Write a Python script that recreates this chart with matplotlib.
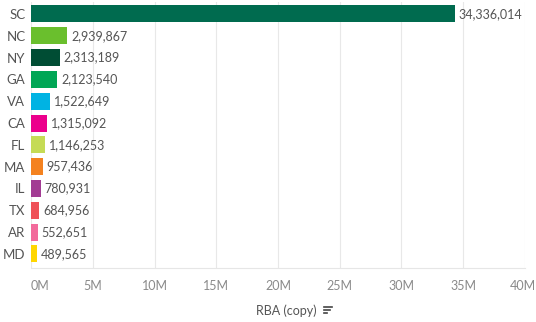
import matplotlib.pyplot as plt
import matplotlib.transforms as mtransforms
from matplotlib.lines import Line2D

# data
states = ["SC", "NC", "NY", "GA", "VA", "CA", "FL", "MA", "IL", "TX", "AR", "MD"]
rba = [34336014, 2939867, 2313189, 2123540, 1522649, 1315092,
       1146253, 957436, 780931, 684956, 552651, 489565]
colors = ["#006b4f", "#6abf2d", "#004d34", "#00a655", "#00b3e3", "#ec008c",
          "#c5db55", "#f4821f", "#a23b93", "#ef5158", "#f26a9b", "#ffd600"]
ticks = [0, 5e6, 10e6, 15e6, 20e6, 25e6, 30e6, 35e6, 40e6]
tick_labels = ["0M", "5M", "10M", "15M", "20M", "25M", "30M", "35M", "40M"]

plt.rcParams['font.family'] = ['Lato', 'DejaVu Sans']

fig = plt.figure(figsize=(5.36, 3.22), dpi=100)
W, H = 536, 322
ax = fig.add_axes([31 / W, 1 - 268 / H, (525 - 31) / W, (268 - 2) / H])

y = list(range(len(states)))
ax.barh(y, rba, height=0.78, color=colors, zorder=3)
for yi, v in zip(y, rba):
    ax.text(v + 3e5, yi, f"{v:,}", va="center", ha="left",
            fontsize=9, color="#555555", zorder=4)

ax.set_xlim(0, 40e6)
ax.set_ylim(11.65, -0.55)
ax.set_yticks(y)
ax.set_yticklabels(states, fontsize=9.5, color="#555555")
ax.set_xticks(ticks)
ax.set_xticklabels(tick_labels, fontsize=9, color="#8a8a8a")
ax.tick_params(axis="both", length=0)
ax.tick_params(axis="y", pad=4)
ax.tick_params(axis="x", pad=9)
# first tick label sits right of the axis start, last one nudged inside
xl = ax.get_xticklabels()
xl[0].set_horizontalalignment("left")
xl[-1].set_transform(xl[-1].get_transform() +
                     mtransforms.ScaledTranslation(-2 / 100, 0, fig.dpi_scale_trans))

ax.grid(axis="x", color="#e8e8e8", linewidth=0.8, zorder=0)
for s in ["top", "right", "left"]:
    ax.spines[s].set_visible(False)
ax.spines["bottom"].set_color("#e6e6e6")
ax.spines["bottom"].set_linewidth(0.8)

# axis title with sort icon
fig.text(286 / W, 1 - 311 / H, "RBA (copy)", ha="center", va="center",
         fontsize=9, color="#555555")
for i, (x0, x1) in enumerate([(324, 332), (324, 330), (324, 327)]):
    yy = 1 - (307 + i * 3.2) / H
    fig.add_artist(Line2D([x0 / W, x1 / W], [yy, yy], color="#444444",
                          linewidth=1.2, transform=fig.transFigure))

fig.savefig("out.png", dpi=100)
